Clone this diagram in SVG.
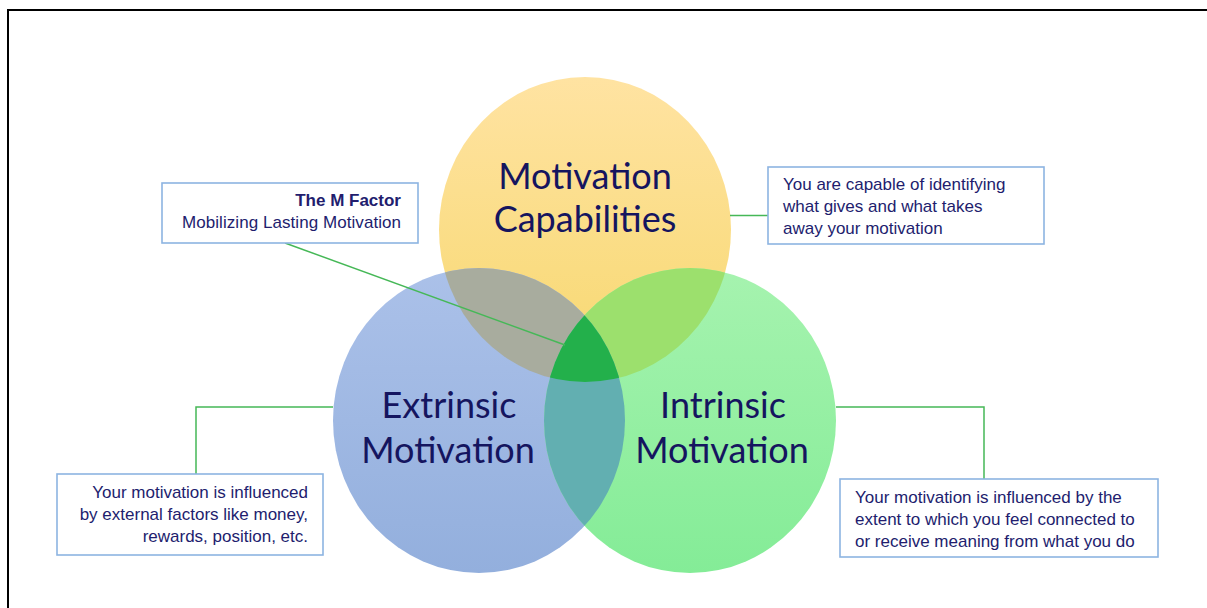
<svg xmlns="http://www.w3.org/2000/svg" width="1207" height="608" viewBox="0 0 1207 608">
<style>
.big{font-family:Lato,"Open Sans","Liberation Sans",sans-serif;font-size:36px;fill:#15155f;text-anchor:middle}
.box{fill:#ffffff;stroke:#8db4e2;stroke-width:1.6}
.t{font-family:"Liberation Sans",Arial,sans-serif;font-size:17px;fill:#221d6e}
.con{fill:none;stroke:#46b857;stroke-width:1.5}
</style>
<defs>
<linearGradient id="gy" x1="0" y1="0" x2="0" y2="1"><stop offset="0" stop-color="#ffe3a2"/><stop offset="1" stop-color="#f7d86f"/></linearGradient>
<linearGradient id="gb" x1="0" y1="0" x2="0" y2="1"><stop offset="0" stop-color="#abc1e9"/><stop offset="1" stop-color="#93afdd"/></linearGradient>
<linearGradient id="gg" x1="0" y1="0" x2="0" y2="1"><stop offset="0" stop-color="#a6f3af"/><stop offset="1" stop-color="#84ec97"/></linearGradient>
<clipPath id="cb"><ellipse cx="479" cy="420.5" rx="146" ry="152.5"/></clipPath>
<clipPath id="cg"><ellipse cx="690" cy="420.5" rx="146" ry="152.5"/></clipPath>
</defs>
<rect width="1207" height="608" fill="#ffffff"/>
<path d="M8,608 V10 H1207" fill="none" stroke="#000" stroke-width="2"/>

<g id="circles">
<ellipse id="c-yellow" cx="585" cy="229.5" rx="146" ry="152.5" fill="url(#gy)"/>
<ellipse id="c-blue" cx="479" cy="420.5" rx="146" ry="152.5" fill="url(#gb)"/>
<ellipse id="c-green" cx="690" cy="420.5" rx="146" ry="152.5" fill="url(#gg)"/>
<ellipse cx="585" cy="229.5" rx="146" ry="152.5" fill="#a8ac9e" clip-path="url(#cb)"/>
<ellipse cx="585" cy="229.5" rx="146" ry="152.5" fill="#9ce06d" clip-path="url(#cg)"/>
<ellipse cx="479" cy="420.5" rx="146" ry="152.5" fill="#62afb1" clip-path="url(#cg)"/>
<g clip-path="url(#cg)"><ellipse cx="585" cy="229.5" rx="146" ry="152.5" fill="#23b04b" clip-path="url(#cb)"/></g>
</g>

<g id="connectors">
<line class="con" x1="285" y1="243" x2="565" y2="345" stroke-width="1.2"/>
<line class="con" x1="730" y1="215.5" x2="768" y2="215.5"/>
<polyline class="con" points="333,407 196,407 196,474"/>
<polyline class="con" points="836,407 984,407 984,479"/>
</g>

<g id="node-capabilities"><text class="big" x="585" y="189">Motivation</text><text class="big" x="585" y="232">Capabilities</text></g>
<g id="node-extrinsic"><text class="big" x="449" y="418">Extrinsic</text><text class="big" x="448" y="463">Motivation</text></g>
<g id="node-intrinsic"><text class="big" x="723" y="418">Intrinsic</text><text class="big" x="722" y="463">Motivation</text></g>

<g id="box-mfactor">
<rect class="box" x="162" y="183" width="256" height="60"/>
<text class="t" x="401" y="206" text-anchor="end" font-weight="bold">The M Factor</text>
<text class="t" x="401" y="228" text-anchor="end" textLength="219" lengthAdjust="spacing">Mobilizing Lasting Motivation</text>
</g>
<g id="box-capable">
<rect class="box" x="768" y="167" width="276" height="77"/>
<text class="t" x="783" y="190">You are capable of identifying</text>
<text class="t" x="783" y="212">what gives and what takes</text>
<text class="t" x="783" y="234">away your motivation</text>
</g>
<g id="box-extrinsic">
<rect class="box" x="57" y="474" width="266" height="81"/>
<text class="t" x="308" y="498" text-anchor="end">Your motivation is influenced</text>
<text class="t" x="308" y="520" text-anchor="end">by external factors like money,</text>
<text class="t" x="308" y="542" text-anchor="end">rewards, position, etc.</text>
</g>
<g id="box-intrinsic">
<rect class="box" x="840" y="479" width="318" height="78"/>
<text class="t" x="855" y="503">Your motivation is influenced by the</text>
<text class="t" x="855" y="525">extent to which you feel connected to</text>
<text class="t" x="855" y="547">or receive meaning from what you do</text>
</g>
</svg>
